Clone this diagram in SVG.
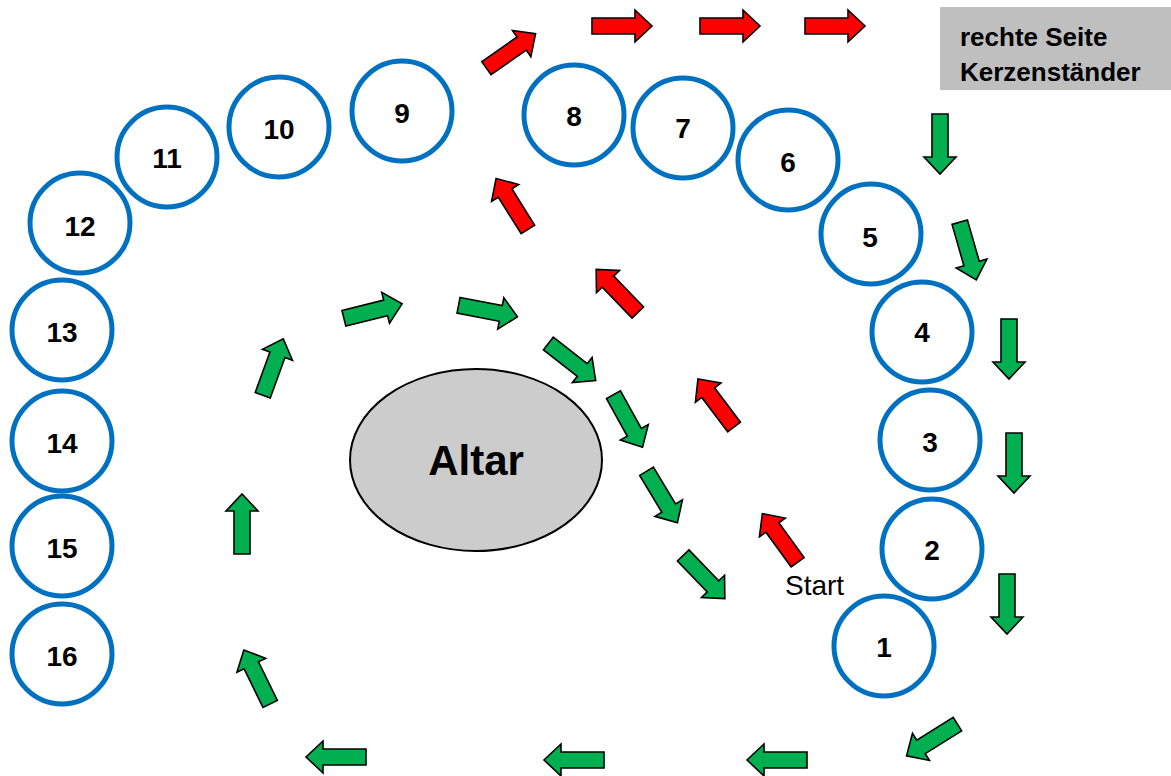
<svg xmlns="http://www.w3.org/2000/svg" xmlns:xlink="http://www.w3.org/1999/xlink" width="1171" height="776" viewBox="0 0 1171 776">
<style>
.c{fill:#fff;stroke:#0070c0;stroke-width:5}
.n{font-family:"Liberation Sans",Arial,sans-serif;font-weight:bold;font-size:28px;text-anchor:middle;fill:#000}
.r{fill:#ff0000}
.g{fill:#00b050}
.arr{stroke:#000;stroke-width:1.6;stroke-linejoin:miter}
</style>
<defs>
<path id="a" d="M-30,-8 H13 V-16 L30,0 L13,16 V8 H-30 Z"/>
</defs>
<rect width="1171" height="776" fill="#fff"/>
<g id="box">
<rect x="940" y="7" width="231" height="83" fill="#bfbfbf"/>
<text x="960" y="46" font-family="'Liberation Sans',Arial,sans-serif" font-weight="bold" font-size="26">rechte Seite</text>
<text x="960" y="81" font-family="'Liberation Sans',Arial,sans-serif" font-weight="bold" font-size="26">Kerzenständer</text>
</g>
<g id="altar">
<ellipse cx="476" cy="460" rx="126" ry="91" fill="#cccccc" stroke="#000" stroke-width="2"/>
<text x="476" y="475" font-family="'Liberation Sans',Arial,sans-serif" font-weight="bold" font-size="42" text-anchor="middle">Altar</text>
</g>
<g id="n1"><circle class="c" cx="884" cy="646" r="50"/><text class="n" x="884" y="657">1</text></g>
<g id="n2"><circle class="c" cx="932" cy="549" r="50"/><text class="n" x="932" y="560">2</text></g>
<g id="n3"><circle class="c" cx="930" cy="440" r="50"/><text class="n" x="930" y="452">3</text></g>
<g id="n4"><circle class="c" cx="922" cy="332" r="50"/><text class="n" x="922" y="342">4</text></g>
<g id="n5"><circle class="c" cx="871" cy="234" r="50"/><text class="n" x="870" y="247">5</text></g>
<g id="n6"><circle class="c" cx="788" cy="160" r="50"/><text class="n" x="788" y="172">6</text></g>
<g id="n7"><circle class="c" cx="683" cy="128" r="50"/><text class="n" x="683" y="138">7</text></g>
<g id="n8"><circle class="c" cx="574" cy="115" r="50"/><text class="n" x="574" y="126">8</text></g>
<g id="n9"><circle class="c" cx="402" cy="111" r="50"/><text class="n" x="402" y="123">9</text></g>
<g id="n10"><circle class="c" cx="279" cy="127" r="50"/><text class="n" x="279" y="139">10</text></g>
<g id="n11"><circle class="c" cx="167" cy="157" r="50"/><text class="n" x="167" y="168">11</text></g>
<g id="n12"><circle class="c" cx="80" cy="223" r="50"/><text class="n" x="80" y="236">12</text></g>
<g id="n13"><circle class="c" cx="62" cy="330" r="50"/><text class="n" x="62" y="342">13</text></g>
<g id="n14"><circle class="c" cx="62" cy="441" r="50"/><text class="n" x="62" y="453">14</text></g>
<g id="n15"><circle class="c" cx="62" cy="546" r="50"/><text class="n" x="62" y="558">15</text></g>
<g id="n16"><circle class="c" cx="62" cy="654" r="50"/><text class="n" x="62" y="666">16</text></g>
<g id="start"><text x="785" y="595" font-family="'Liberation Sans',Arial,sans-serif" font-size="28">Start</text></g>
<g id="connectors" class="arr">
<use xlink:href="#a" class="r" transform="translate(511,51) rotate(-35)"/>
<use xlink:href="#a" class="r" transform="translate(622,26)"/>
<use xlink:href="#a" class="r" transform="translate(730,26)"/>
<use xlink:href="#a" class="r" transform="translate(835,26)"/>
<use xlink:href="#a" class="r" transform="translate(780,538) rotate(-126)"/>
<use xlink:href="#a" class="r" transform="translate(716,403) rotate(-127)"/>
<use xlink:href="#a" class="r" transform="translate(617,291) rotate(-134)"/>
<use xlink:href="#a" class="r" transform="translate(512,204) rotate(-122)"/>
<use xlink:href="#a" class="g" transform="translate(940,144) rotate(90)"/>
<use xlink:href="#a" class="g" transform="translate(968,251) rotate(74)"/>
<use xlink:href="#a" class="g" transform="translate(1009,349) rotate(90)"/>
<use xlink:href="#a" class="g" transform="translate(1014,463) rotate(90)"/>
<use xlink:href="#a" class="g" transform="translate(1007,604) rotate(90)"/>
<use xlink:href="#a" class="g" transform="translate(932,740) rotate(148)"/>
<use xlink:href="#a" class="g" transform="translate(777,760) rotate(180)"/>
<use xlink:href="#a" class="g" transform="translate(574,760) rotate(180)"/>
<use xlink:href="#a" class="g" transform="translate(336,757) rotate(180)"/>
<use xlink:href="#a" class="g" transform="translate(257,677) rotate(-116)"/>
<use xlink:href="#a" class="g" transform="translate(242,524) rotate(-90)"/>
<use xlink:href="#a" class="g" transform="translate(273,367) rotate(-70)"/>
<use xlink:href="#a" class="g" transform="translate(373,311) rotate(-14)"/>
<use xlink:href="#a" class="g" transform="translate(488,311) rotate(11)"/>
<use xlink:href="#a" class="g" transform="translate(572,362) rotate(38)"/>
<use xlink:href="#a" class="g" transform="translate(628,421) rotate(61)"/>
<use xlink:href="#a" class="g" transform="translate(662,497) rotate(59)"/>
<use xlink:href="#a" class="g" transform="translate(704,577) rotate(46)"/>
</g>
</svg>
